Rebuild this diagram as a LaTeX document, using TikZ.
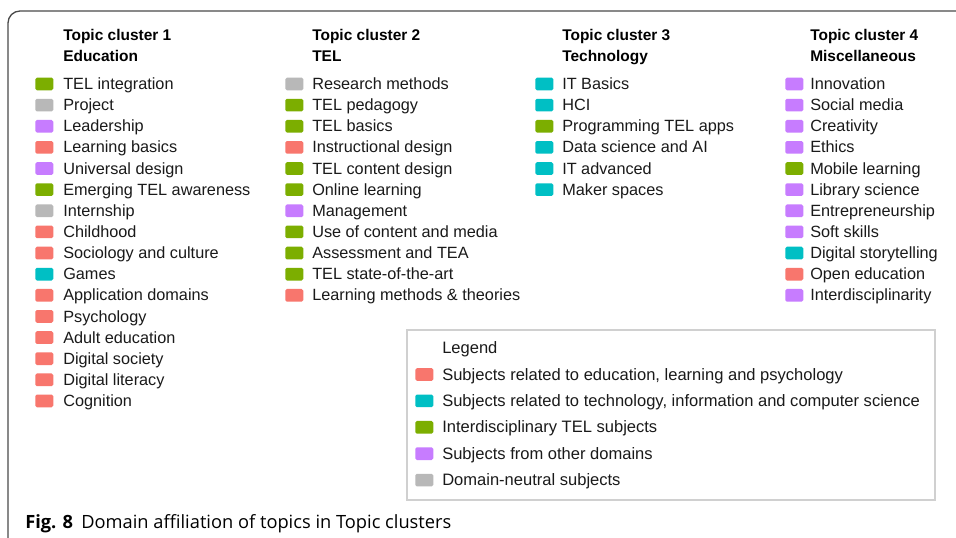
\documentclass[tikz,border=0pt]{standalone}
\usepackage{fontspec}
\setmainfont{Liberation Sans}
\newfontfamily\capfont{Open Sans}
\definecolor{edu}{HTML}{F8766D}
\definecolor{tech}{HTML}{00BFC4}
\definecolor{tel}{HTML}{7CAE00}
\definecolor{oth}{HTML}{C77CFF}
\definecolor{neu}{HTML}{B8B8B8}
\definecolor{framec}{HTML}{4A4A4A}
\definecolor{legc}{HTML}{D0D0D0}
\definecolor{txt}{HTML}{1A1A1A}
\begin{document}
\begin{tikzpicture}[x=0.75pt,y=-0.75pt,
 item/.style={anchor=base west,inner sep=0pt,text=txt,font=\fontsize{12.2}{14}\selectfont},
 legitem/.style={item,font=\fontsize{12.4}{14}\selectfont},
 head/.style={anchor=base west,inner sep=0pt,text=black,font=\fontsize{11.6}{14}\selectfont\bfseries},
 swatch/.style={fill=#1,draw=none,rounded corners=1.2pt,minimum width=13.5pt,minimum height=9.5pt,inner sep=0pt,anchor=west},
]
\useasboundingbox (0,0) rectangle (956,538);
\fill[white] (0,0) rectangle (956,538);
\begin{scope}
\clip (0,0) rectangle (956,538);
\draw[framec,line width=1pt] (8,560) [rounded corners=9pt] -- (8,11) -- (980,11);
\end{scope}
% headers
\node[head] (h1a) at (63,40.6) {Topic cluster 1};
\node[head] (h1b) at (63,61.6) {Education};
\node[head] (h2a) at (312,40.6) {Topic cluster 2};
\node[head] (h2b) at (312,61.6) {TEL};
\node[head] (h3a) at (562,40.6) {Topic cluster 3};
\node[head] (h3b) at (562,61.6) {Technology};
\node[head] (h4a) at (810,40.6) {Topic cluster 4};
\node[head] (h4b) at (810,61.6) {Miscellaneous};
% column 1
\foreach \c/\t [count=\i] in {tel/TEL integration, neu/Project, oth/Leadership, edu/Learning basics, oth/Universal design, tel/Emerging TEL awareness, neu/Internship, edu/Childhood, edu/Sociology and culture, tech/Games, edu/Application domains, edu/Psychology, edu/Adult education, edu/Digital society, edu/Digital literacy, edu/Cognition}{
  \node[swatch=\c] (s1-\i) at (35,{84+21.13*(\i-1)}) {};
  \node[item] (t1-\i) at (63,{89.6+21.13*(\i-1)}) {\t};
}
% column 2
\foreach \c/\t [count=\i] in {neu/Research methods, tel/TEL pedagogy, tel/TEL basics, edu/Instructional design, tel/TEL content design, tel/Online learning, oth/Management, tel/Use of content and media, tel/Assessment and TEA, tel/TEL state-of-the-art, edu/Learning methods \& theories}{
  \node[swatch=\c] (s2-\i) at (285,{84+21.13*(\i-1)}) {};
  \node[item] (t2-\i) at (312,{89.6+21.13*(\i-1)}) {\t};
}
% column 3
\foreach \c/\t [count=\i] in {tech/IT Basics, tech/HCI, tel/Programming TEL apps, tech/Data science and AI, tech/IT advanced, tech/Maker spaces}{
  \node[swatch=\c] (s3-\i) at (535,{84+21.13*(\i-1)}) {};
  \node[item] (t3-\i) at (562,{89.6+21.13*(\i-1)}) {\t};
}
% column 4
\foreach \c/\t [count=\i] in {oth/Innovation, oth/Social media, oth/Creativity, oth/Ethics, tel/Mobile learning, oth/Library science, oth/Entrepreneurship, oth/Soft skills, tech/Digital storytelling, edu/Open education, oth/Interdisciplinarity}{
  \node[swatch=\c] (s4-\i) at (785,{84+21.13*(\i-1)}) {};
  \node[item] (t4-\i) at (810,{89.6+21.13*(\i-1)}) {\t};
}
% legend
\draw[legc,line width=1pt] (407,330) rectangle (935,500);
\node[legitem] (legtitle) at (442,353.6) {Legend};
\foreach \c/\t [count=\i] in {edu/Subjects related to education{,} learning and psychology, tech/Subjects related to technology{,} information and computer science, tel/Interdisciplinary TEL subjects, oth/Subjects from other domains, neu/Domain-neutral subjects}{
  \node[swatch=\c] (ls-\i) at (415,{374.5+26.4*(\i-1)}) {};
  \node[legitem] (lt-\i) at (442,{380.1+26.4*(\i-1)}) {\t};
}
% caption
\node[anchor=base west,inner sep=0pt,font=\capfont\fontsize{13.7}{16}\selectfont] (cap) at (25,528) {\textbf{Fig. 8}\hspace{0.45em}Domain affiliation of topics in Topic clusters};
\end{tikzpicture}
\end{document}
